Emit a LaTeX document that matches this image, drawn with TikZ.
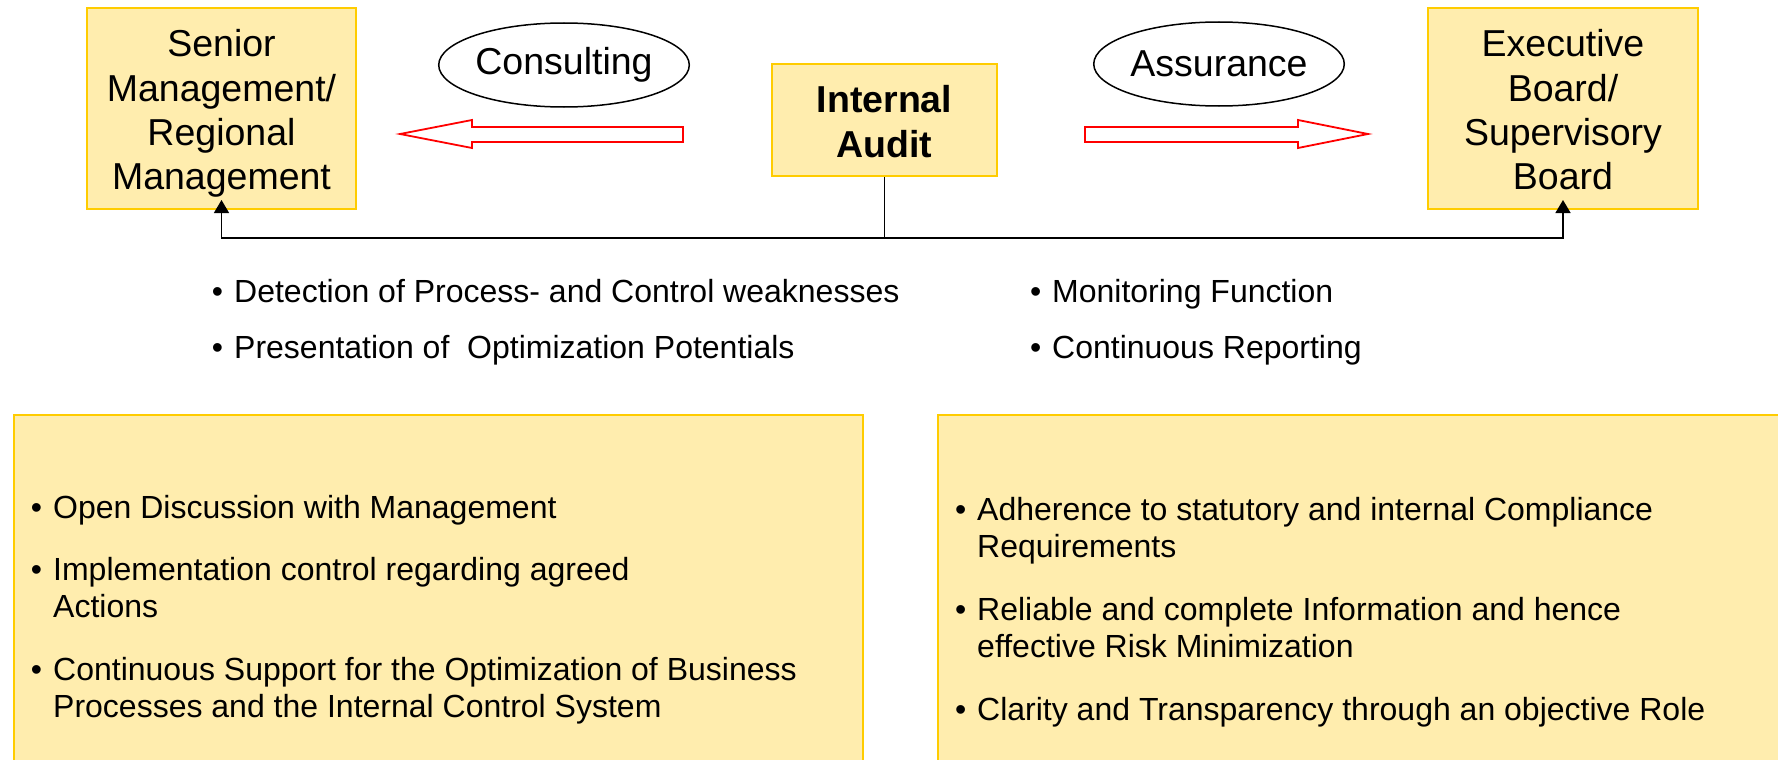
\documentclass[tikz,border=0pt]{standalone}
\usepackage{fontspec}
\setmainfont{Liberation Sans}
\usetikzlibrary{shapes.geometric,arrows.meta}
\definecolor{boxfill}{RGB}{255,237,174}
\definecolor{boxline}{RGB}{255,204,0}
\definecolor{arrred}{RGB}{255,0,0}
\newcommand\myitem[1]{\llap{\textbullet\hspace{11pt}}\begin{tabular}[t]{@{}l@{}}#1\end{tabular}}
\newcommand\boxtext[1]{\raisebox{-6pt}[\height][\depth]{\begin{tabular}{@{}c@{}}#1\end{tabular}}}
\begin{document}
\begin{tikzpicture}[x=1pt,y=-1pt,
  box/.style={draw=boxline, fill=boxfill, line width=2pt, inner sep=0pt, font=\fontsize{37.5}{44.3}\selectfont},
  panel/.style={draw=boxline, fill=boxfill, line width=2pt, inner sep=0pt},
  oval/.style={ellipse, draw=black, line width=1.5pt, inner sep=0pt, minimum width=234pt, minimum height=84pt, font=\fontsize{37.5}{44}\selectfont},
  bigarrow/.style={draw=arrred, fill=white, line width=1.8pt, line join=miter},
  conn/.style={draw=black, line width=1.5pt},
  tip/.style={-{Triangle[length=13pt,width=15pt]}},
  item/.style={anchor=base west, inner sep=0pt, font=\fontsize{32}{37.5}\selectfont}
]
\clip (0,0) rectangle (1778,760);
\fill[white] (0,0) rectangle (1778,760);

% top boxes
\node[box, minimum width=269pt, minimum height=201pt] (senior) at (221.5,108.5) {\boxtext{Senior\\Management/\\Regional\\Management}};
\node[box, minimum width=225pt, minimum height=112pt, font=\fontsize{37.5}{45}\selectfont\bfseries] (audit) at (884.5,120) {\boxtext{Internal\\Audit}};
\node[box, minimum width=270pt, minimum height=201pt] (exec) at (1563,108.5) {\boxtext{Executive\\Board/\\Supervisory\\Board}};

% ellipses
\node[oval] (consult) at (564,65) {Consulting};
\node[oval] (assure) at (1219,64) {Assurance};

% red block arrows
\draw[bigarrow] (683,127) -- (472,127) -- (472,120) -- (400,134) -- (472,148) -- (472,142) -- (683,142) -- cycle;
\draw[bigarrow] (1085,127) -- (1298,127) -- (1298,120) -- (1368,134) -- (1298,148) -- (1298,142) -- (1085,142) -- cycle;

% connectors
\coordinate (j) at (audit.south |- 0,238);
\draw[conn] (audit.south) -- (j);
\draw[conn,tip] (j) -| ([yshift=10pt]senior.south);
\draw[conn,tip] (j) -| ([yshift=10pt]exec.south);

% middle bullets
\node[item] (d1) at (234,302) {\myitem{Detection of Process- and Control weaknesses}};
\node[item] (d2) at (234,358) {\myitem{Presentation of\ \ Optimization Potentials}};
\node[item] (m1) at (1052,302) {\myitem{Monitoring Function}};
\node[item] (m2) at (1052,358) {\myitem{Continuous Reporting}};

% bottom panels
\node[panel, minimum width=849pt, minimum height=360pt, anchor=north west] (lp) at (13,414) {};
\node[panel, minimum width=860pt, minimum height=360pt, anchor=north west] (rp) at (937,414) {};

\node[item] (l1) at (53,518) {\myitem{Open Discussion with Management}};
\node[item] (l2) at (53,580) {\myitem{Implementation control regarding agreed\\Actions}};
\node[item] (l3) at (53,680) {\myitem{Continuous Support for the Optimization of Business\\Processes and the Internal Control System}};

\node[item] (r1) at (977,520) {\myitem{Adherence to statutory and internal Compliance\\Requirements}};
\node[item] (r2) at (977,620) {\myitem{Reliable and complete Information and hence\\effective Risk Minimization}};
\node[item] (r3) at (977,720) {\myitem{Clarity and Transparency through an objective Role}};
\end{tikzpicture}
\end{document}
